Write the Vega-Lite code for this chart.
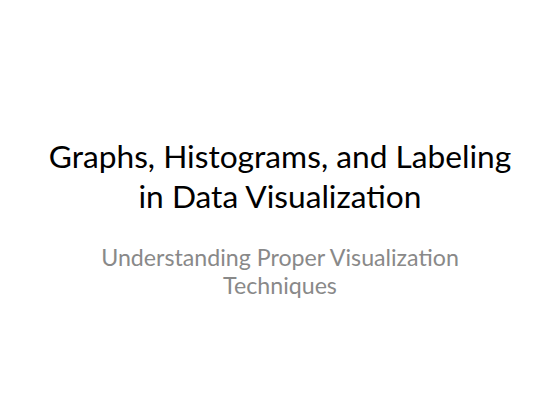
{
  "$schema": "https://vega.github.io/schema/vega-lite/v6.json",
  "width": 560,
  "height": 420,
  "autosize": {"type": "fit", "contains": "padding"},
  "padding": 0,
  "background": "white",
  "config": {"view": {"stroke": null}},
  "layer": [
    {
      "data": {"values": [
        {"line": 1, "text": "Graphs, Histograms, and Labeling"},
        {"line": 2, "text": "in Data Visualization"}
      ]},
      "mark": {"type": "text", "font": "Lato", "fontSize": 31.7, "color": "#000000", "align": "center", "baseline": "alphabetic"},
      "encoding": {
        "y": {"field": "line", "type": "quantitative", "scale": {"domain": [-3.2, 7.3], "reverse": true, "nice": false, "zero": false}, "axis": null},
        "text": {"field": "text"}
      }
    },
    {
      "data": {"values": [
        {"line": 1, "text": "Understanding Proper Visualization"},
        {"line": 2, "text": "Techniques"}
      ]},
      "mark": {"type": "text", "font": "Lato", "fontSize": 23.2, "color": "#898989", "align": "center", "baseline": "alphabetic"},
      "encoding": {
        "y": {"field": "line", "type": "quantitative", "scale": {"domain": [-8.5, 6.5], "reverse": true, "nice": false, "zero": false}, "axis": null},
        "text": {"field": "text"}
      }
    }
  ],
  "resolve": {"scale": {"y": "independent"}}
}
